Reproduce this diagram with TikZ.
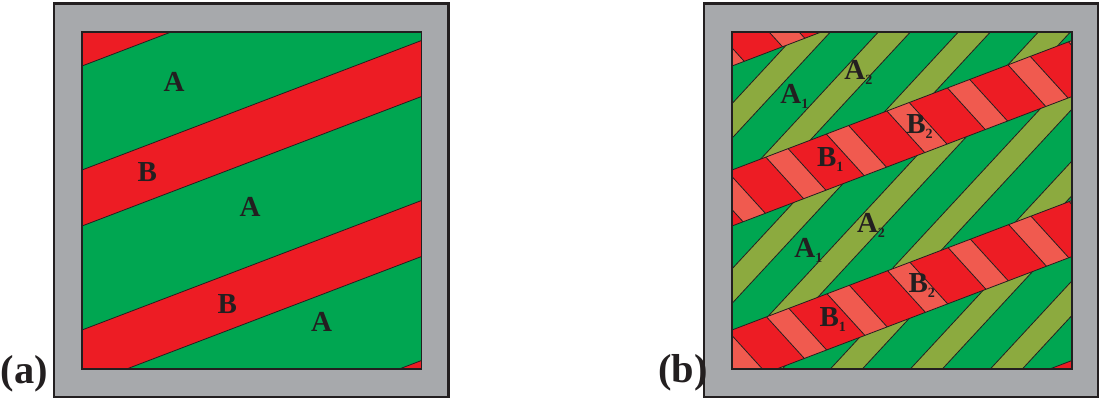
\documentclass[tikz,border=0pt]{standalone}
\usepackage{fontspec}
\setmainfont{Liberation Serif}

\definecolor{wall}{HTML}{A7A9AC}
\definecolor{ink}{HTML}{231F20}
\definecolor{phaseA}{HTML}{00A651}
\definecolor{phaseAA}{HTML}{8CAA3F}
\definecolor{phaseB}{HTML}{ED1C24}
\definecolor{phaseBB}{HTML}{F05A4F}

\tikzset{
  wallbox/.style={fill=wall, draw=ink, line width=1.4pt},
  cellbox/.style={draw=ink, line width=0.8pt},
  border/.style={draw=ink, line width=0.45pt},
  phaselabel/.style={text=ink, font=\fontsize{16.5}{18}\selectfont\bfseries, inner sep=0pt, anchor=base west},
  panellabel/.style={text=ink, font=\fontsize{23}{25}\selectfont\bfseries, inner sep=0pt, anchor=base west},
}
\newcommand{\phasesub}[2]{#1\raisebox{-3pt}{\fontsize{8}{9}\selectfont #2}}

\begin{document}
\begin{tikzpicture}[x=0.02cm, y=-0.02cm]
    \useasboundingbox (0,0) rectangle (1099,403);

    % -----------------------------------------------------
    % (a) frame and stripes A / B
    % -----------------------------------------------------
    \draw[wallbox] (54,3.5) rectangle (448.5,397);
    \begin{scope}
        \clip (82,32) rectangle (421.5,369);
        \fill[phaseA] (82,32) rectangle (421.5,369);
        \foreach \ya in {10,170,330,490}
            \filldraw[fill=phaseB, border] (82,\ya) -- (421.5,{\ya-129.5})
                -- (421.5,{\ya-73.5}) -- (82,{\ya+56}) -- cycle;
    \end{scope}
    \draw[cellbox] (82,32) rectangle (421.5,369);

    \node[phaselabel] (aA1) at (163.3,91.7) {A};
    \node[phaselabel] (aB1) at (137.3,181.7) {B};
    \node[phaselabel] (aA2) at (239.3,216) {A};
    \node[phaselabel] (aB2) at (217.3,313.3) {B};
    \node[phaselabel] (aA3) at (310.7,331.7) {A};
    \node[panellabel] (pa) at (0.5,383.3) {(a)};

    % -----------------------------------------------------
    % (b) frame, A1/A2 and B1/B2 sub-stripes
    % -----------------------------------------------------
    \draw[wallbox] (704,3.5) rectangle (1098,397);
    \begin{scope}
        \clip (732,32) rectangle (1072,369);
        \fill[phaseA] (732,32) rectangle (1072,369);

        % olive stripes inside the green bands
        \foreach \ya/\ph in {66/28, 226/21, 386/52} {
            \begin{scope}
                \clip (732,\ya) -- (1072,{\ya-129.5}) -- (1072,{\ya-25.5})
                    -- (732,{\ya+104}) -- cycle;
                \foreach \n in {8,...,18}
                    \filldraw[fill=phaseAA, border] ({\ph+80*\n},0) -- ({\ph+80*\n+32},0)
                        -- ({\ph+80*\n+32-370.4},400) -- ({\ph+80*\n-370.4},400) -- cycle;
            \end{scope}
        }

        % red bands with light red stripes
        \foreach \ya/\ph in {10/6.5, 170/52.5, 330/71} {
            \begin{scope}
                \clip (732,\ya) -- (1072,{\ya-129.5}) -- (1072,{\ya-73.5})
                    -- (732,{\ya+56}) -- cycle;
                \fill[phaseB] (732,0) rectangle (1072,400);
                \foreach \n in {4,...,13}
                    \filldraw[fill=phaseBB, border] ({\ph+81.5*\n},0) -- ({\ph+81.5*\n+30},0)
                        -- ({\ph+81.5*\n+30+363.6},400) -- ({\ph+81.5*\n+363.6},400) -- cycle;
            \end{scope}
            \draw[border] (732,\ya) -- (1072,{\ya-129.5});
            \draw[border] (732,{\ya+56}) -- (1072,{\ya-73.5});
        }
        \filldraw[fill=phaseB, border] (732,490) -- (1072,360.5) -- (1072,416.5)
            -- (732,546) -- cycle;
    \end{scope}
    \draw[cellbox] (732,32) rectangle (1072,369);

    \node[phaselabel] (bA1) at (780,103.3) {\phasesub{A}{1}};
    \node[phaselabel] (bA2) at (844,79.3) {\phasesub{A}{2}};
    \node[phaselabel] (bB1) at (816.7,166.7) {\phasesub{B}{1}};
    \node[phaselabel] (bB2) at (906,133.3) {\phasesub{B}{2}};
    \node[phaselabel] (bA3) at (794,257.3) {\phasesub{A}{1}};
    \node[phaselabel] (bA4) at (856.7,232.7) {\phasesub{A}{2}};
    \node[phaselabel] (bB3) at (819.3,326.7) {\phasesub{B}{1}};
    \node[phaselabel] (bB4) at (908.3,292.7) {\phasesub{B}{2}};
    \node[panellabel] (pb) at (658,382.7) {(b)};
\end{tikzpicture}
\end{document}
